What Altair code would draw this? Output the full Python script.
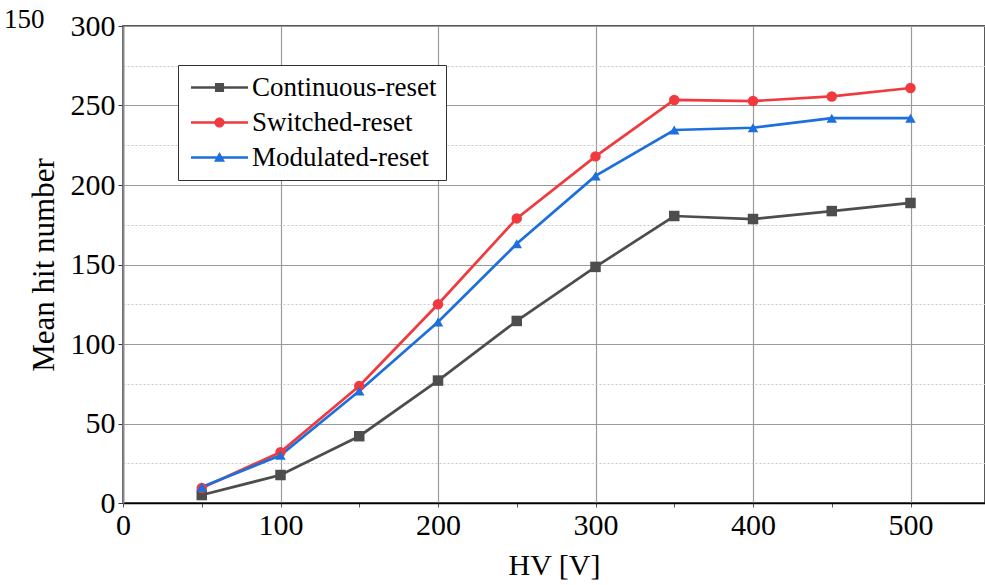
import altair as alt
import pandas as pd

hv = [50, 100, 150, 200, 250, 300, 350, 400, 450, 500]
continuous = [5, 17.6, 42, 77, 114.5, 148.5, 180.5, 178.6, 183.6, 188.7]
switched = [9.4, 32, 73.6, 125, 179, 218, 253.5, 252.8, 255.7, 261]
modulated = [10, 30, 70.4, 113.8, 163, 205.7, 234.6, 236, 242, 242]

series_names = ["Continuous-reset", "Switched-reset", "Modulated-reset"]
series_values = [continuous, switched, modulated]
colors = ["#4d4d4d", "#f03a3f", "#1c6fdc"]
shapes = ["square", "circle", "triangle-up"]
corner_text = ["150"]

# legend symbols: line segment + marker (custom SVG paths, unit = half symbol size)
legend_paths = [
    "M-2.375,-0.1H2.375V0.1H-2.375Z M-0.38,-0.38H0.38V0.38H-0.38Z",
    "M-2.375,-0.1H2.375V0.1H-2.375Z M-0.42,0A0.42,0.42 0 1,1 0.42,0A0.42,0.42 0 1,1 -0.42,0Z",
    "M-2.375,-0.1H2.375V0.1H-2.375Z M-0.46,0.36L0,-0.46L0.46,0.36Z",
]

rows = []
for name, vals in zip(series_names, series_values):
    for x, v in zip(hv, vals):
        rows.append({"HV": x, "Mean": v, "Series": name})
df = pd.DataFrame(rows)

FONT = "Liberation Serif"

x_axis = alt.Axis(
    values=list(range(0, 501, 50)),
    labelExpr="datum.value % 100 == 0 ? datum.label : ''",
    title="HV [V]",
    titleFont=FONT, titleFontSize=30, titleFontWeight="normal", titleColor="black",
    titlePadding=10,
    labelFont=FONT, labelFontSize=30, labelColor="black", labelPadding=3,
    labelFlush=False, labelOverlap=False,
    domainColor="black", domainWidth=1.5,
    tickColor="#555", tickSize=4,
    grid=True, gridColor="#9a9a9a", gridWidth=1.2,
    gridOpacity={"condition": {"test": "datum.value % 100 == 0 && datum.value > 0", "value": 1}, "value": 0},
)

y_axis = alt.Axis(
    values=list(range(0, 301, 25)),
    labelExpr="datum.value % 50 == 0 ? datum.label : ''",
    title="Mean hit number",
    titleFont=FONT, titleFontSize=31, titleFontWeight="normal", titleColor="black",
    titlePadding=10,
    labelFont=FONT, labelFontSize=30, labelColor="black", labelPadding=3,
    labelFlush=False, labelOverlap=False,
    domainColor="#888", domainWidth=2,
    tickColor="#333", tickSize=5,
    tickOpacity={"condition": {"test": "datum.value % 50 == 0", "value": 1}, "value": 0},
    grid=True,
    gridColor={"condition": {"test": "datum.value % 50 == 0", "value": "#9a9a9a"}, "value": "#c8c8c8"},
    gridDash={"condition": {"test": "datum.value % 50 == 0", "value": []}, "value": [2, 2]},
    gridWidth=1.2,
)

x_enc = alt.X("HV:Q", scale=alt.Scale(domain=[0, 547.3], nice=False, zero=False), axis=x_axis)
y_enc = alt.Y("Mean:Q", scale=alt.Scale(domain=[0, 300], nice=False), axis=y_axis)

color_scale = alt.Scale(domain=series_names, range=colors)

base = alt.Chart(df).encode(x=x_enc, y=y_enc)

lines = base.mark_line(strokeWidth=2.7).encode(
    color=alt.Color("Series:N", scale=color_scale, legend=None)
)
points = base.mark_point(filled=True, opacity=1, size=110).encode(
    color=alt.Color("Series:N", scale=color_scale, legend=None),
    shape=alt.Shape("Series:N", scale=alt.Scale(domain=series_names, range=shapes), legend=None),
)

leg = alt.Legend(
    title=None, orient="none", legendX=55, legendY=39,
    labelFont=FONT, labelFontSize=27, labelColor="black", labelLimit=400,
    strokeColor="#333", fillColor="white", padding=9,
    symbolSize=576, symbolOffset=19, labelOffset=19, rowPadding=7,
    symbolStrokeWidth=0,
)

legend_layer = alt.Chart(df).transform_filter("false").mark_point(
    filled=True, opacity=1, size=576
).encode(
    x=x_enc, y=y_enc,
    color=alt.Color("Series:N", scale=alt.Scale(domain=series_names, range=colors), legend=leg),
    shape=alt.Shape("Series:N", scale=alt.Scale(domain=series_names, range=legend_paths), legend=leg),
)

corner = alt.Chart(pd.DataFrame({"t": corner_text})).mark_text(
    font=FONT, fontSize=27, color="black", align="left", baseline="alphabetic"
).encode(x=alt.value(-119), y=alt.value(2), text="t:N")

chart = alt.layer(lines, points, legend_layer, corner).resolve_scale(
    color="independent", shape="independent"
).properties(
    width=862, height=477,
    autosize=alt.AutoSizeParams(type="none"),
    padding={"left": 123, "top": 26, "right": 0, "bottom": 82},
).configure_view(stroke="#222", strokeWidth=1.5)

chart.save("out.html", embed_options={"renderer": "svg", "actions": False})
